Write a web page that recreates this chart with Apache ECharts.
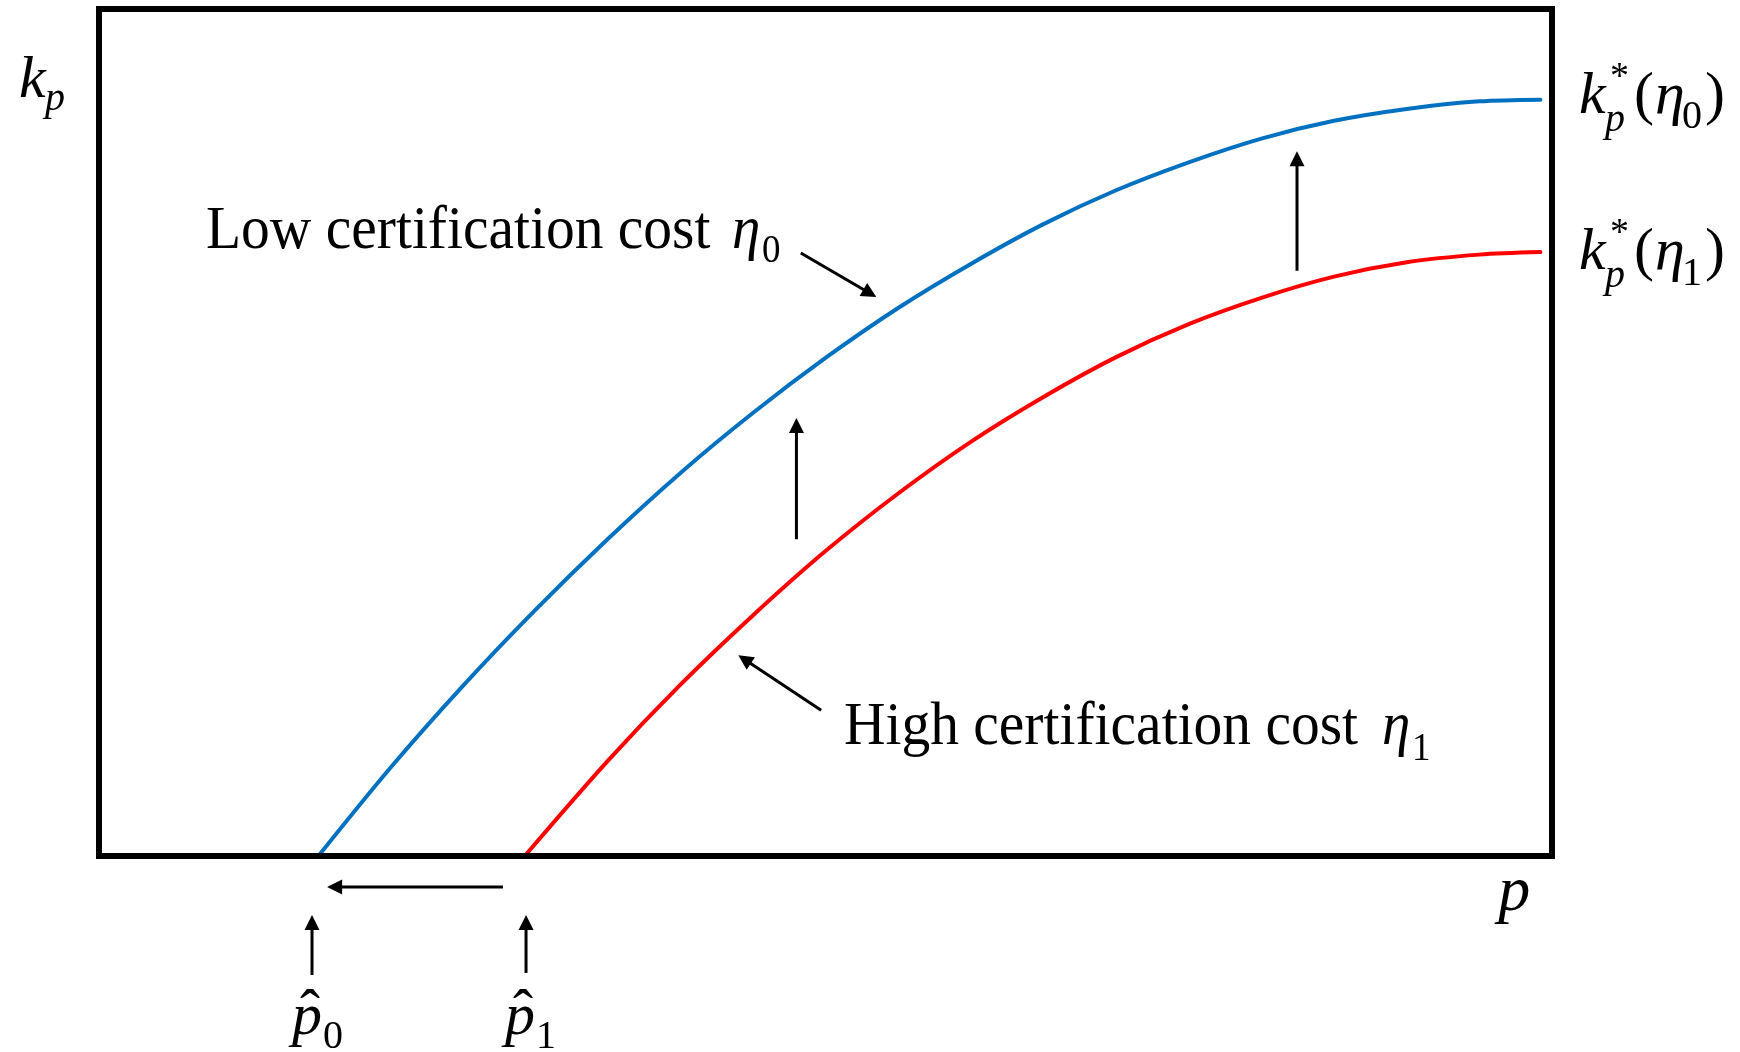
<!DOCTYPE html>
<html>
<head>
<meta charset="utf-8">
<script src="https://cdn.jsdelivr.net/npm/echarts@6/dist/echarts.min.js"></script>
<style>
  html, body { margin: 0; padding: 0; background: #fff; }
  #chart { width: 1740px; height: 1052px; }
</style>
</head>
<body>
<div id="chart"></div>
<script>
// Optimal k_p against p for a low (eta0) and a high (eta1) certification cost
const pLow  = [15.1, 20, 25, 30, 35, 40, 45, 50, 55, 60, 65, 70, 75, 80, 85, 90, 95, 99.2];
const kLow  = [0, 10.3, 20.0, 29.0, 37.4, 45.2, 52.3, 58.8, 64.7, 69.9, 74.6, 78.6, 81.9, 84.7, 86.8, 88.2, 89.1, 89.3];
const pHigh = [29.3, 35, 40, 45, 50, 55, 60, 65, 70, 75, 80, 85, 90, 95, 99.2];
const kHigh = [0, 11.2, 20.2, 28.4, 36.0, 42.8, 48.9, 54.2, 58.9, 62.8, 65.9, 68.4, 70.1, 71.0, 71.3];

// Annotation arrows, tail -> head, in (p, k) units
const arrows = [
  { from: [48.0, 37.4],   to: [48.0, 51.7] },
  { from: [82.45, 69.1],  to: [82.45, 83.2] },
  { from: [48.3, 71.2],   to: [53.5, 66.0] },
  { from: [49.7, 17.2],   to: [44.0, 23.7] },
  { from: [27.8, -3.66],  to: [15.7, -3.66] },
  { from: [14.66, -14.05], to: [14.66, -6.97] },
  { from: [29.39, -13.8], to: [29.39, -6.97] }
];

const SERIF = '"Liberation Serif", "Times New Roman", serif';
const BLUE = '#0070C0';
const RED = '#FF0000';

const chart = echarts.init(document.getElementById('chart'), null, { renderer: 'canvas', width: 1740, height: 1052 });

chart.setOption({
  animation: false,
  backgroundColor: '#ffffff',
  grid: { left: 99, right: 188, top: 9, bottom: 196, show: false },
  xAxis: { type: 'value', min: 0, max: 100, show: false },
  yAxis: { type: 'value', min: 0, max: 100, show: false },
  series: [
    {
      name: 'Low certification cost',
      type: 'line',
      data: pLow.map((p, i) => [p, kLow[i]]),
      smooth: 0.3,
      showSymbol: false,
      lineStyle: { color: BLUE, width: 4, cap: 'round' },
      z: 3
    },
    {
      name: 'High certification cost',
      type: 'line',
      data: pHigh.map((p, i) => [p, kHigh[i]]),
      smooth: 0.3,
      showSymbol: false,
      lineStyle: { color: RED, width: 4, cap: 'round' },
      z: 3
    }
  ]
});

function toPx(pt) {
  return chart.convertToPixel({ gridIndex: 0 }, pt);
}

// One text run with its baseline at (x, y); tall > 1 stretches it upward from the baseline
function run(x, y, text, size, italic, tall) {
  return {
    type: 'text',
    z: 50,
    x: x,
    y: y,
    scaleY: tall || 1,
    style: {
      text: text,
      x: 0,
      y: -0.25 * size,
      font: (italic ? 'italic ' : '') + size + 'px ' + SERIF,
      fill: '#000',
      align: 'left',
      verticalAlign: 'middle',
      textAlign: 'left',
      textVerticalAlign: 'middle'
    }
  };
}

// Math-style labels: anchor in (p, k) units, runs as [text, dx, dy, size, italic, tall]
const labels = [
  { at: [-5.64, 89.73], runs: [['k', 2, 0, 60, 1], ['p', 28, 13, 40, 1]] },
  { at: [7.36, 71.9], runs: [['Low certification cost', 0, 0, 57.5, 0, 1.08], ['η', 526, 0, 57, 1, 1.08], ['0', 556, 14, 37, 0, 1.08]] },
  { at: [51.27, 13.34], runs: [['High certification cost', 0, 0, 57.5, 0, 1.08], ['η', 538, 0, 57, 1, 1.08], ['1', 568, 16, 37, 0, 1.08]] },
  { at: [101.85, 87.84], runs: [['k', 0, 0, 60, 1], ['*', 31, -24, 38, 0], ['p', 26, 18, 40, 1], ['(', 55, 0, 60, 0], ['η', 76, 0, 60, 1], ['0', 103, 16, 40, 0], [')', 126, 0, 60, 0]] },
  { at: [101.85, 69.42], runs: [['k', 0, 0, 60, 1], ['*', 31, -24, 38, 0], ['p', 26, 18, 40, 1], ['(', 55, 0, 60, 0], ['η', 76, 0, 60, 1], ['1', 103, 16, 40, 0], [')', 126, 0, 60, 0]] },
  { at: [13.28, -20.9], runs: [['p', 0, 0, 60, 1], ['ˆ', 8, -4, 60, 0], ['0', 31, 14, 40, 0]] },
  { at: [27.94, -20.9], runs: [['p', 0, 0, 60, 1], ['ˆ', 8, -4, 60, 0], ['1', 31, 14, 40, 0]] },
  { at: [96.3, -6.26], runs: [['p', 0, 0, 64, 1]] }
];

function arrowGraphics(a) {
  const p0 = toPx(a.from);
  const p1 = toPx(a.to);
  const dx = p1[0] - p0[0];
  const dy = p1[1] - p0[1];
  const len = Math.sqrt(dx * dx + dy * dy);
  const ux = dx / len, uy = dy / len;
  const headLen = 15, headHalf = 7.5;
  const bx = p1[0] - ux * headLen, by = p1[1] - uy * headLen;
  return [
    {
      type: 'line', z: 40,
      shape: { x1: p0[0], y1: p0[1], x2: bx + ux * 2, y2: by + uy * 2 },
      style: { stroke: '#000', lineWidth: 3 }
    },
    {
      type: 'polygon', z: 40,
      shape: { points: [[p1[0], p1[1]], [bx - uy * headHalf, by + ux * headHalf], [bx + uy * headHalf, by - ux * headHalf]] },
      style: { fill: '#000' }
    }
  ];
}

const graphics = [];
// Plot frame drawn over the curve ends
const c0 = toPx([0, 0]);
const c1 = toPx([100, 100]);
graphics.push({
  type: 'rect', z: 60,
  shape: { x: c0[0], y: c1[1], width: c1[0] - c0[0], height: c0[1] - c1[1] },
  style: { fill: 'none', stroke: '#000', lineWidth: 6 }
});
arrows.forEach(a => arrowGraphics(a).forEach(g => graphics.push(g)));
labels.forEach(l => {
  const o = toPx(l.at);
  l.runs.forEach(r => graphics.push(run(o[0] + r[1], o[1] + r[2], r[0], r[3], r[4], r[5])));
});

chart.setOption({ graphic: graphics });
</script>
</body>
</html>
